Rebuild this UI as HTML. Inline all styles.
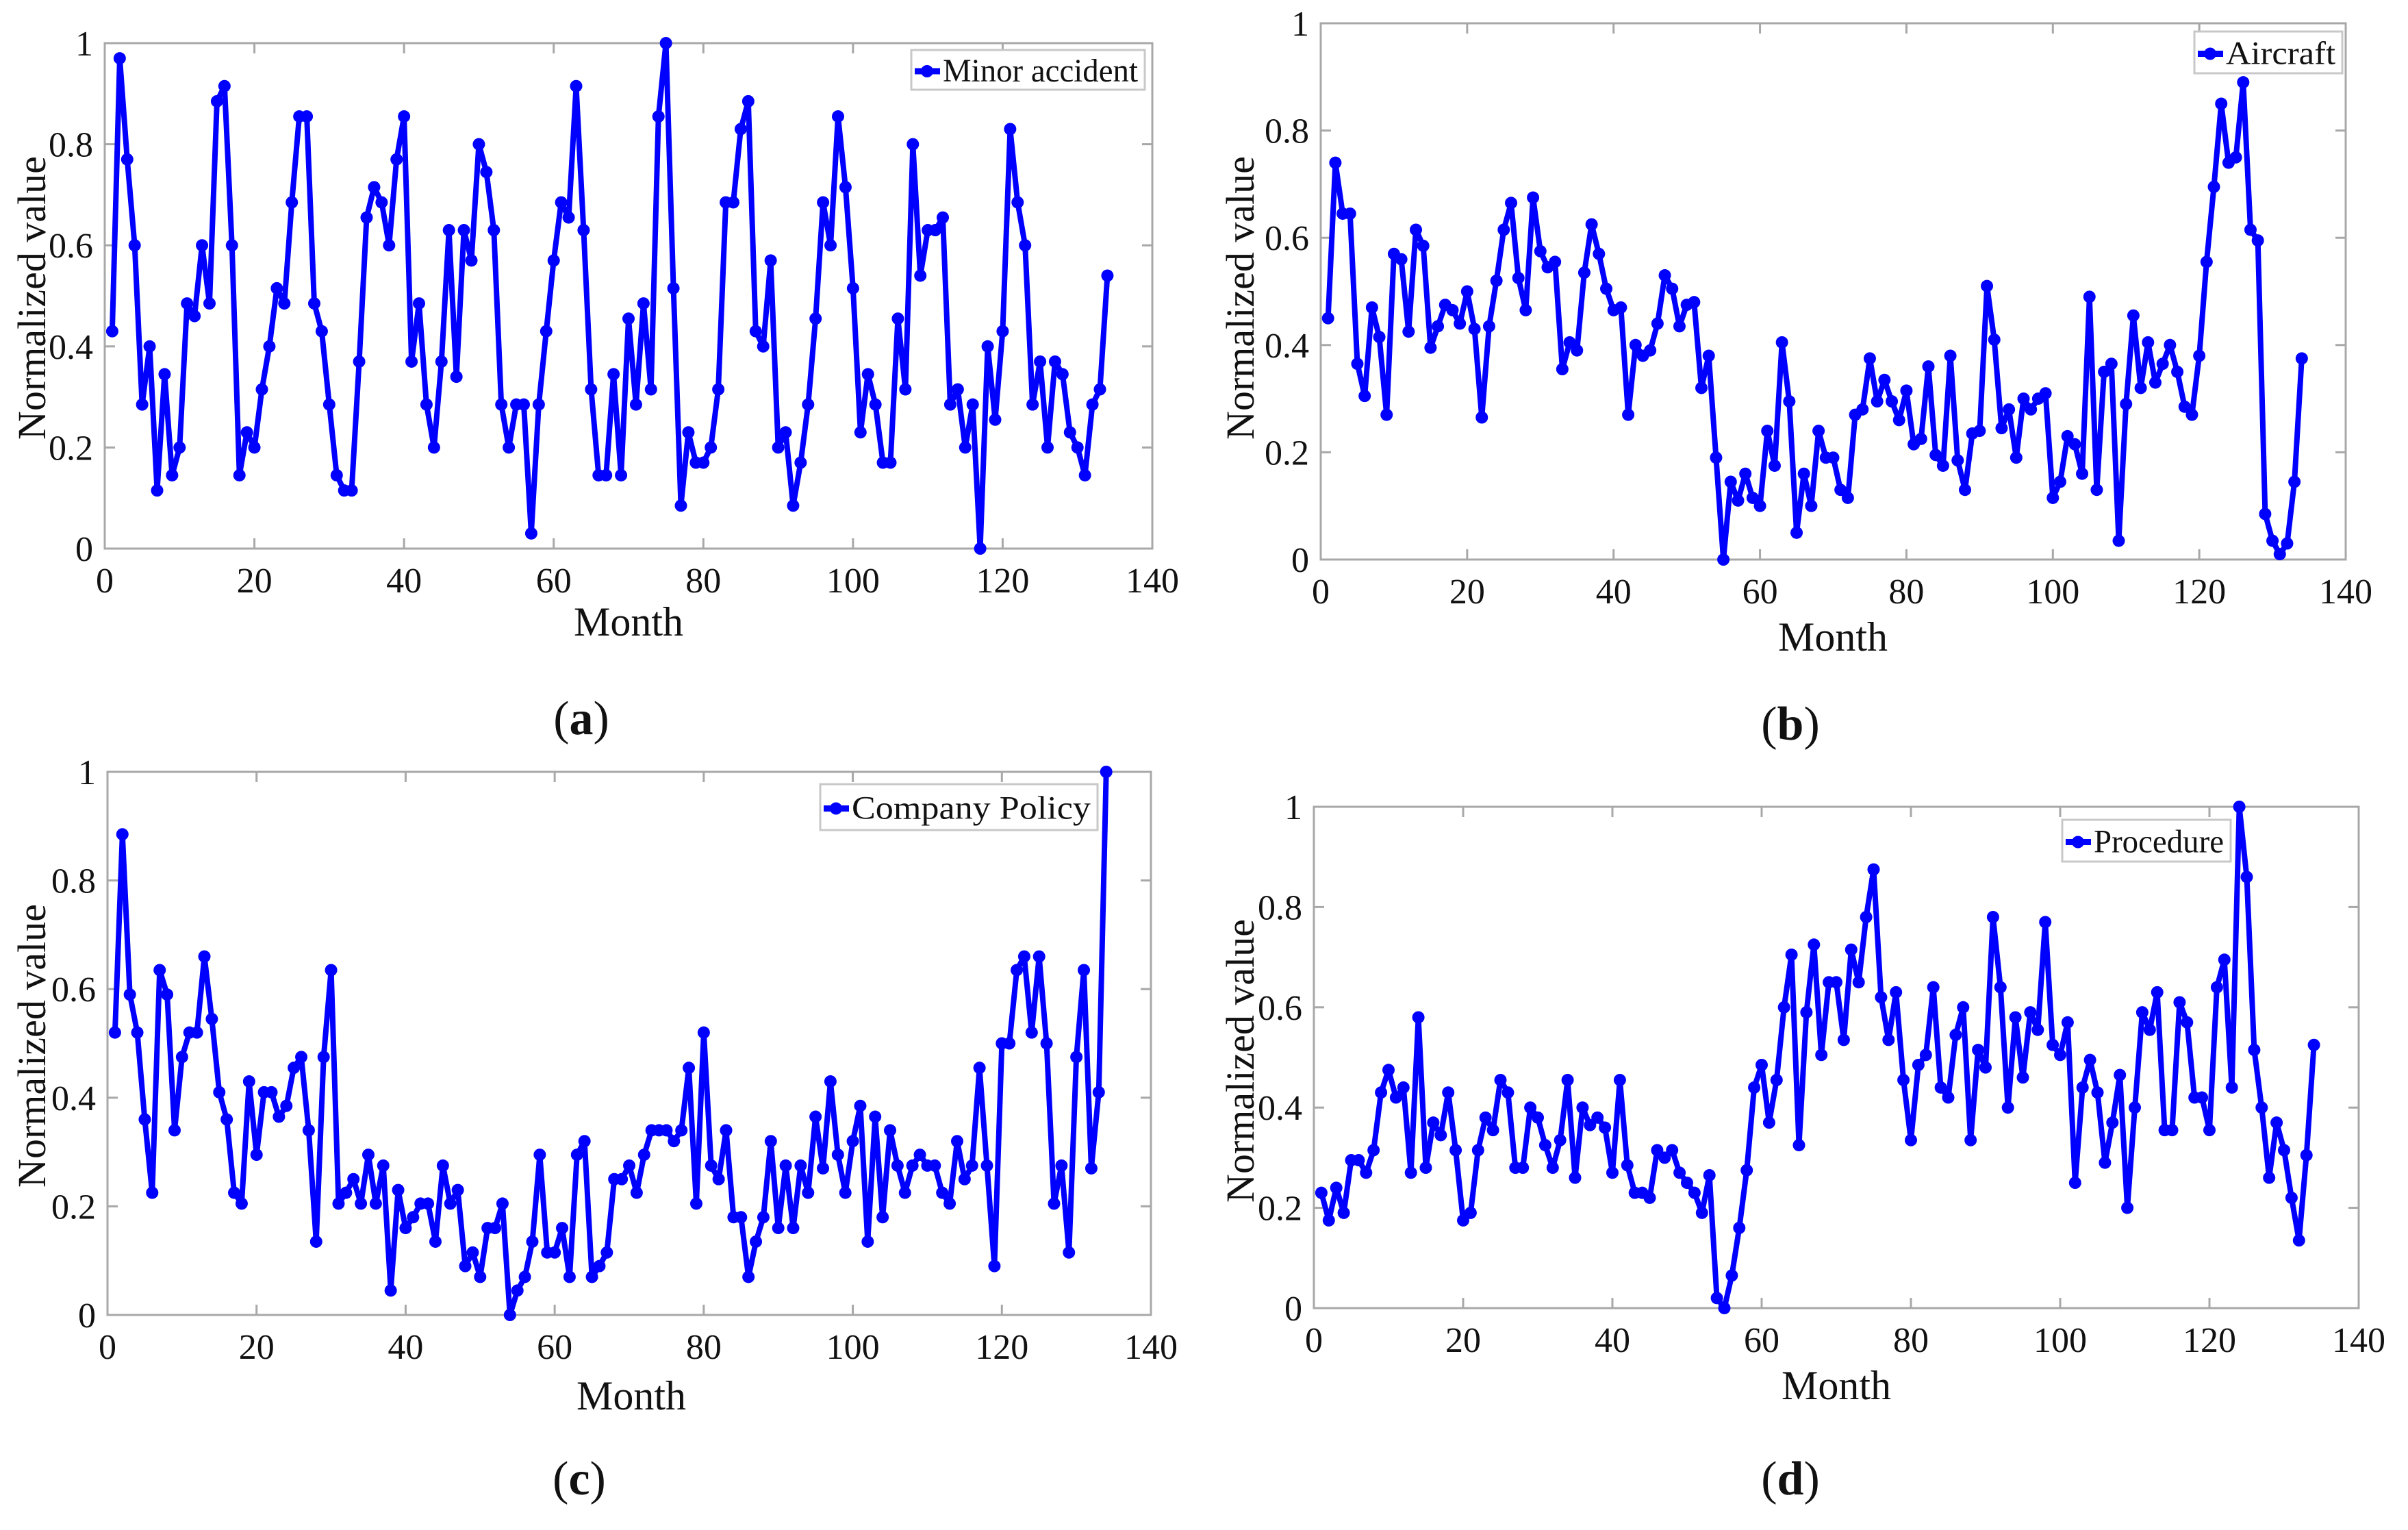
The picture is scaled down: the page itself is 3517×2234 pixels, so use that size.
<!DOCTYPE html>
<html><head><meta charset="utf-8">
<style>
html,body{margin:0;padding:0;background:#fff;}
svg{display:block;}
svg text{font-family:"Liberation Serif","DejaVu Serif","Times New Roman",serif;fill:#111;}
</style></head>
<body>
<svg id="fig" width="3517" height="2234" viewBox="0 0 3517 2234" xmlns="http://www.w3.org/2000/svg">
<rect width="3517" height="2234" fill="#fff"/>
</svg>
<script>
const xTicks = [0,20,40,60,80,100,120,140];
const yTicks = [0,0.2,0.4,0.6,0.8,1];
const yTickLabels = ["0","0.2","0.4","0.6","0.8","1"];
const minorAccident = [0.43,0.97,0.77,0.60,0.285,0.40,0.115,0.345,0.145,0.20,0.485,0.46,0.60,0.485,0.885,0.915,0.60,0.145,0.23,0.20,0.315,0.40,0.515,0.485,0.685,0.855,0.855,0.485,0.43,0.285,0.145,0.115,0.115,0.37,0.655,0.715,0.685,0.60,0.77,0.855,0.37,0.485,0.285,0.20,0.37,0.63,0.34,0.63,0.57,0.80,0.745,0.63,0.285,0.20,0.285,0.285,0.03,0.285,0.43,0.57,0.685,0.655,0.915,0.63,0.315,0.145,0.145,0.345,0.145,0.455,0.285,0.485,0.315,0.855,1.0,0.515,0.085,0.23,0.17,0.17,0.20,0.315,0.685,0.685,0.83,0.885,0.43,0.40,0.57,0.20,0.23,0.085,0.17,0.285,0.455,0.685,0.60,0.855,0.715,0.515,0.23,0.345,0.285,0.17,0.17,0.455,0.315,0.80,0.54,0.63,0.63,0.655,0.285,0.315,0.20,0.285,0.0,0.40,0.255,0.43,0.83,0.685,0.60,0.285,0.37,0.20,0.37,0.345,0.23,0.20,0.145,0.285,0.315,0.54];
const aircraft = [0.45,0.74,0.645,0.645,0.365,0.305,0.47,0.415,0.27,0.57,0.56,0.425,0.615,0.585,0.395,0.435,0.475,0.465,0.44,0.50,0.43,0.265,0.435,0.52,0.615,0.665,0.525,0.465,0.675,0.575,0.545,0.555,0.355,0.405,0.39,0.535,0.625,0.57,0.505,0.465,0.47,0.27,0.40,0.38,0.39,0.44,0.53,0.505,0.435,0.475,0.48,0.32,0.38,0.19,0.0,0.145,0.11,0.16,0.115,0.10,0.24,0.175,0.405,0.295,0.05,0.16,0.10,0.24,0.19,0.19,0.13,0.115,0.27,0.28,0.375,0.295,0.335,0.295,0.26,0.315,0.215,0.225,0.36,0.195,0.175,0.38,0.185,0.13,0.235,0.24,0.51,0.41,0.245,0.28,0.19,0.30,0.28,0.30,0.31,0.115,0.145,0.23,0.215,0.16,0.49,0.13,0.35,0.365,0.035,0.29,0.455,0.32,0.405,0.33,0.365,0.40,0.35,0.285,0.27,0.38,0.555,0.695,0.85,0.74,0.75,0.89,0.615,0.595,0.085,0.035,0.01,0.03,0.145,0.375];
const companyPolicy = [0.52,0.885,0.59,0.52,0.36,0.225,0.635,0.59,0.34,0.475,0.52,0.52,0.66,0.545,0.41,0.36,0.225,0.205,0.43,0.295,0.41,0.41,0.365,0.385,0.455,0.475,0.34,0.135,0.475,0.635,0.205,0.225,0.25,0.205,0.295,0.205,0.275,0.045,0.23,0.16,0.18,0.205,0.205,0.135,0.275,0.205,0.23,0.09,0.115,0.07,0.16,0.16,0.205,0.0,0.045,0.07,0.135,0.295,0.115,0.115,0.16,0.07,0.295,0.32,0.07,0.09,0.115,0.25,0.25,0.275,0.225,0.295,0.34,0.34,0.34,0.32,0.34,0.455,0.205,0.52,0.275,0.25,0.34,0.18,0.18,0.07,0.135,0.18,0.32,0.16,0.275,0.16,0.275,0.225,0.365,0.27,0.43,0.295,0.225,0.32,0.385,0.135,0.365,0.18,0.34,0.275,0.225,0.275,0.295,0.275,0.275,0.225,0.205,0.32,0.25,0.275,0.455,0.275,0.09,0.50,0.50,0.635,0.66,0.52,0.66,0.50,0.205,0.275,0.115,0.475,0.635,0.27,0.41,1.0];
const procedure = [0.23,0.175,0.24,0.19,0.295,0.295,0.27,0.315,0.43,0.475,0.42,0.44,0.27,0.58,0.28,0.37,0.345,0.43,0.315,0.175,0.19,0.315,0.38,0.355,0.455,0.43,0.28,0.28,0.40,0.38,0.325,0.28,0.335,0.455,0.26,0.40,0.365,0.38,0.36,0.27,0.455,0.285,0.23,0.23,0.22,0.315,0.30,0.315,0.27,0.25,0.23,0.19,0.265,0.02,0.0,0.065,0.16,0.275,0.44,0.485,0.37,0.455,0.60,0.705,0.325,0.59,0.725,0.505,0.65,0.65,0.535,0.715,0.65,0.78,0.875,0.62,0.535,0.63,0.455,0.335,0.485,0.505,0.64,0.44,0.42,0.545,0.60,0.335,0.515,0.48,0.78,0.64,0.40,0.58,0.46,0.59,0.555,0.77,0.525,0.505,0.57,0.25,0.44,0.495,0.43,0.29,0.37,0.465,0.20,0.40,0.59,0.555,0.63,0.355,0.355,0.61,0.57,0.42,0.42,0.355,0.64,0.695,0.44,1.0,0.86,0.515,0.40,0.26,0.37,0.315,0.22,0.135,0.305,0.525];

const NS='http://www.w3.org/2000/svg';
const FONT='Liberation Serif, DejaVu Serif, serif';
const svg=document.getElementById('fig');
function mk(tag,attrs,parent){const e=document.createElementNS(NS,tag);for(const k in attrs)e.setAttribute(k,attrs[k]);if(tag==='text')e.setAttribute('font-family',FONT);(parent||svg).appendChild(e);return e;}

const panels=[
 {key:'a',name:'minor-accident',label:'Minor accident',data:minorAccident,x0:153,x1:1683,y0:801,y1:63,leg:[1331,73,1672,131],month:[918,928],tag:[849,1072],ylab:[48,435]},
 {key:'b',name:'aircraft',label:'Aircraft',data:aircraft,x0:1929,x1:3426,y0:817,y1:34,leg:[3205,46,3421,107],month:[2677,950],tag:[2615,1080],ylab:[1813,435]},
 {key:'c',name:'company-policy',label:'Company Policy',data:companyPolicy,x0:157,x1:1681,y0:1920,y1:1127,leg:[1198,1145,1603,1212],month:[922,2058],tag:[846,2182],ylab:[48,1527]},
 {key:'d',name:'procedure',label:'Procedure',data:procedure,x0:1919,x1:3445,y0:1910,y1:1178,leg:[3012,1197,3258,1258],month:[2682,2043],tag:[2615,2182],ylab:[1813,1549]}
];

panels.forEach(p=>{
  const g=mk('g',{});
  
  
  const sx=v=>p.x0+(v/140)*(p.x1-p.x0);
  const sy=v=>p.y0-v*(p.y0-p.y1);
  const box=mk('rect',{x:p.x0,y:p.y1,width:p.x1-p.x0,height:p.y0-p.y1,fill:'none',stroke:'#a8a8a8','stroke-width':3},g);
  
  
  xTicks.forEach(t=>{
    const x=sx(t);
    mk('line',{x1:x,y1:p.y0,x2:x,y2:p.y0-15,stroke:'#a8a8a8','stroke-width':3},g);
    mk('line',{x1:x,y1:p.y1,x2:x,y2:p.y1+15,stroke:'#a8a8a8','stroke-width':3},g);
    const tx=mk('text',{x:x,y:p.y0+64,'font-size':52,'text-anchor':'middle'},g);
    tx.textContent=String(t);
    
    
  });
  yTicks.forEach((t,i)=>{
    const y=sy(t);
    mk('line',{x1:p.x0,y1:y,x2:p.x0+15,y2:y,stroke:'#a8a8a8','stroke-width':3},g);
    mk('line',{x1:p.x1,y1:y,x2:p.x1-15,y2:y,stroke:'#a8a8a8','stroke-width':3},g);
    const ty=mk('text',{x:p.x0-17,y:y+18,'font-size':52,'text-anchor':'end'},g);
    ty.textContent=yTickLabels[i];
    
    
  });
  const pts=p.data.map((v,i)=>sx(i+1).toFixed(1)+','+sy(v).toFixed(1)).join(' ');
  const line=mk('polyline',{points:pts,fill:'none',stroke:'#0000ff','stroke-width':8,'stroke-linejoin':'round'},g);
  
  
  p.data.forEach((v,i)=>{
    const c=mk('circle',{cx:sx(i+1),cy:sy(v),r:9,fill:'#0000ff'},g);
    
    
  });
  const [lx0,ly0,lx1,ly1]=p.leg;
  const lg=mk('g',{},g);
  
  
  mk('rect',{x:lx0,y:ly0,width:lx1-lx0,height:ly1-ly0,fill:'#fff',stroke:'#c8c8c8','stroke-width':3},lg);
  const my=(ly0+ly1)/2;
  mk('line',{x1:lx0+5,y1:my+2,x2:lx0+42,y2:my+2,stroke:'#0000ff','stroke-width':9},lg);
  mk('circle',{cx:lx0+23,cy:my+2,r:9,fill:'#0000ff'},lg);
  const lt=mk('text',{x:lx0+46,y:my+17,'font-size':48,textLength:(lx1-lx0-56),lengthAdjust:'spacingAndGlyphs'},lg);
  lt.textContent=p.label;
  const mt=mk('text',{x:p.month[0],y:p.month[1],'font-size':60,'text-anchor':'middle'},g);
  mt.textContent='Month';
  
  
  const yl=mk('text',{x:0,y:0,'font-size':58,'text-anchor':'middle',transform:'translate('+(p.ylab[0]+18)+','+p.ylab[1]+') rotate(-90)'},g);
  yl.textContent='Normalized value';
  
  
  const tg=mk('text',{x:p.tag[0],y:p.tag[1],'font-size':70,'text-anchor':'middle'},g);
  tg.textContent='(';
  const b=mk('tspan',{'font-weight':'bold'},tg);b.textContent=p.key;
  const c2=mk('tspan',{},tg);c2.textContent=')';
  
  
});
</script>
</body></html>
